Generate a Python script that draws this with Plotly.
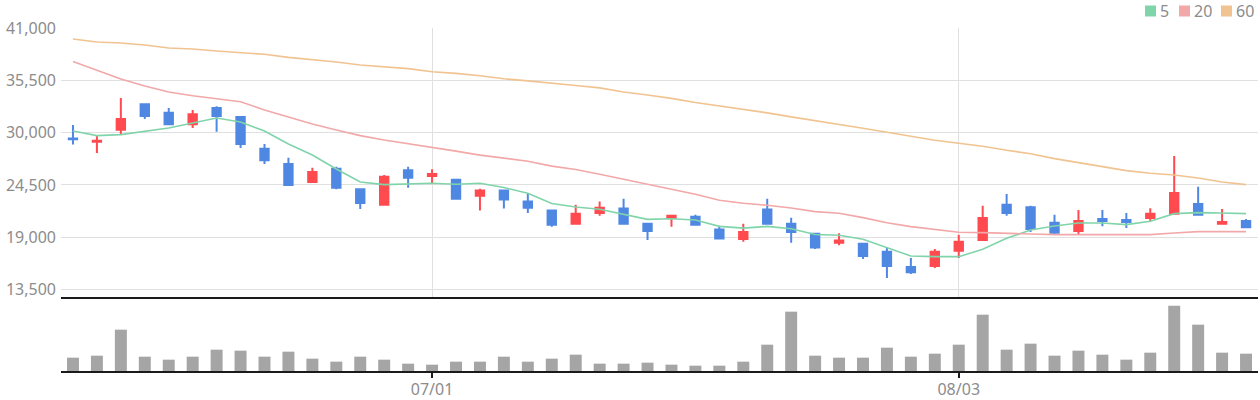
import plotly.graph_objects as go

# ---------------- data ----------------
idx = list(range(50))
tick_pos = [15, 37]
tick_text = ["07/01", "08/03"]
price_ticks = [13500, 19000, 24500, 30000, 35500, 41000]

open_ = [29400, 29050, 30300, 33000, 32100, 30900, 32600, 31650, 28300, 26700,
         24800, 26200, 24050, 22400, 26050, 25450, 25050, 23350, 23900, 22750,
         21800, 20400, 21550, 22000, 20400, 21050, 21150, 19800, 18800, 21900,
         20400, 19350, 18400, 18300, 17450, 15850, 15950, 17550, 18700, 22400,
         22150, 20500, 19650, 20900, 20800, 21000, 21450, 22500, 20400, 20700]
high = [30800, 29650, 33650, 33050, 32600, 32400, 32800, 31700, 28800, 27350,
        26300, 26400, 24100, 25550, 26400, 26150, 25100, 24100, 23950, 23600,
        21850, 22400, 22750, 23050, 20500, 21350, 21350, 20200, 20400, 23050,
        21050, 19400, 19400, 18400, 17950, 16800, 17750, 19250, 22300, 23550,
        22300, 21350, 21850, 21850, 21550, 22050, 27550, 24300, 21950, 20900]
low = [28750, 27850, 29750, 31450, 30800, 30500, 30100, 28400, 26700, 24400,
       24700, 24050, 21950, 22350, 24200, 24600, 23000, 21800, 22000, 21550,
       20100, 20300, 21250, 20400, 18700, 20100, 20200, 18800, 18500, 20300,
       18400, 17750, 18150, 16700, 14700, 15100, 15750, 16800, 18700, 21250,
       19550, 19250, 19250, 20150, 19950, 20700, 21350, 21250, 20300, 20050]
close = [29300, 29150, 31450, 31750, 30900, 31950, 31750, 28800, 27100, 24500,
         25850, 24200, 22600, 25350, 25250, 25650, 23050, 23900, 22950, 22100,
         20300, 21450, 22100, 20400, 19650, 21250, 20300, 18850, 19550, 20400,
         19550, 17900, 18650, 17000, 15950, 15300, 17450, 18500, 21000, 21550,
         19850, 19450, 20700, 20700, 20600, 21450, 23650, 21350, 20600, 20050]

ma5 = [30180, 29690, 29800, 30180, 30500, 31030, 31550, 31130, 30180, 28810,
       27650, 26180, 24810, 24530, 24600, 24680, 24570, 24680, 24220, 23620,
       22530, 22170, 21930, 21360, 20870, 20940, 20800, 20130, 19950, 20130,
       19880, 19280, 19190, 18770, 17860, 17010, 16940, 16940, 17710, 18870,
       19750, 20170, 20490, 20490, 20310, 20660, 21470, 21580, 21540, 21470]
ma20 = [37490, 36540, 35660, 34920, 34290, 33900, 33590, 33270, 32400, 31660,
        30920, 30290, 29690, 29230, 28850, 28490, 28060, 27640, 27320, 27000,
        26480, 26120, 25630, 25100, 24570, 24010, 23510, 22880, 22560, 22350,
        22070, 21680, 21510, 21050, 20520, 20100, 19820, 19510, 19470, 19370,
        19330, 19260, 19260, 19260, 19260, 19260, 19430, 19580, 19580, 19580]
ma60 = [39880, 39560, 39450, 39240, 38930, 38820, 38610, 38440, 38260, 37940,
        37730, 37450, 37140, 36960, 36750, 36420, 36250, 36000, 35680, 35460,
        35180, 34970, 34720, 34290, 33970, 33620, 33190, 32840, 32480, 32090,
        31670, 31240, 30810, 30460, 30040, 29590, 29200, 28880, 28570, 28150,
        27790, 27270, 26850, 26420, 26000, 25720, 25550, 25230, 24810, 24530]
volume = [40000, 46000, 124000, 43000, 34000, 43000, 64000, 61000, 43000, 58000,
          37000, 28000, 43000, 34000, 22000, 19000, 28000, 28000, 43000, 28000,
          37000, 49000, 22000, 22000, 25000, 19000, 16000, 16000, 28000, 79000,
          178000, 46000, 40000, 40000, 70000, 43000, 52000, 79000, 169000, 64000,
          82000, 46000, 61000, 49000, 34000, 55000, 196000, 139000, 55000, 52000]

ma_names = ["5", "20", "60"]
ma_colors = ["#80d4aa", "#f2a8a8", "#f1c391"]

# ---------------- layout constants (pixels) ----------------
W, H = 1260, 400
ML, MR, MT, MB = 61, 2, 28, 29
PW = W - ML - MR
PH = H - MT - MB
split = 74 / PH
GRAY = "#8c8c8c"
FONT = "Noto Sans"


def px_x(px):
    return (px - ML) / PW


def px_y(py):
    return (H - MB - py) / PH


fig = go.Figure()

fig.add_trace(go.Candlestick(
    x=idx, open=open_, high=high, low=low, close=close,
    increasing=dict(line=dict(color="#ff4a4f", width=2), fillcolor="#ff4a4f"),
    decreasing=dict(line=dict(color="#4f88e3", width=2), fillcolor="#4f88e3"),
    whiskerwidth=0, showlegend=False, xaxis="x", yaxis="y", hoverinfo="skip",
))

for vals, name, col in zip([ma5, ma20, ma60], ma_names, ma_colors):
    fig.add_trace(go.Scatter(
        x=idx, y=vals, mode="lines", name=name,
        line=dict(color=col, width=1.6), showlegend=False,
        xaxis="x", yaxis="y", hoverinfo="skip",
    ))

fig.add_trace(go.Bar(
    x=idx, y=volume, marker=dict(color="#a5a5a5", line=dict(width=0)),
    width=0.5, showlegend=False, xaxis="x2", yaxis="y2", hoverinfo="skip",
))

# legend (squares + labels) drawn in paper space
legend_items = [(1145, 1160), (1179, 1194), (1221, 1236)]
shapes = []
annotations = []
for (sx, tx), name, col in zip(legend_items, ma_names, ma_colors):
    shapes.append(dict(type="rect", xref="paper", yref="paper",
                       x0=px_x(sx), x1=px_x(sx + 11), y0=px_y(16.5), y1=px_y(5.5),
                       fillcolor=col, line=dict(width=0)))
    annotations.append(dict(text=name, xref="paper", yref="paper",
                            x=px_x(tx - 2), y=px_y(11), xanchor="left", yanchor="middle",
                            showarrow=False, font=dict(family=FONT, size=16, color=GRAY)))

fig.update_layout(
    width=W, height=H,
    margin=dict(l=ML, r=MR, t=MT, b=MB, pad=0, autoexpand=False),
    paper_bgcolor="white", plot_bgcolor="white",
    boxgap=0.5,
    bargap=0.5,
    shapes=shapes, annotations=annotations,
    font=dict(family=FONT, size=16, color=GRAY),
    xaxis=dict(domain=[0, 1], anchor="y", range=[-0.5, 49.5],
               tickvals=tick_pos, showticklabels=False, showgrid=True,
               gridcolor="#e0e0e0", gridwidth=1, zeroline=False,
               showline=True, linecolor="#1a1a1a", linewidth=2,
               rangeslider=dict(visible=False), fixedrange=True, automargin=False),
    yaxis=dict(domain=[split, 1], anchor="x", range=[12688, 41032],
               tickvals=price_ticks, tickformat=",d", showgrid=True,
               gridcolor="#e0e0e0", gridwidth=1, zeroline=False,
               ticks="", ticklabelstandoff=4, automargin=False,
               tickfont=dict(family=FONT, size=16, color=GRAY), fixedrange=True),
    xaxis2=dict(domain=[0, 1], anchor="y2", range=[-0.5, 49.5],
                tickvals=tick_pos, ticktext=tick_text, showgrid=False,
                zeroline=False, showline=True, linecolor="#1a1a1a", linewidth=2,
                ticks="outside", ticklen=5, tickwidth=2, tickcolor="#1a1a1a",
                ticklabelstandoff=-2, automargin=False,
                tickfont=dict(family=FONT, size=16, color=GRAY), fixedrange=True),
    yaxis2=dict(domain=[0, split], anchor="x2", range=[0, 222000],
                showgrid=False, zeroline=False, showticklabels=False,
                ticks="", fixedrange=True, automargin=False),
)

fig.write_html("out.html",
               config={"displayModeBar": False, "staticPlot": True},
               post_script="document.body.style.margin='0px';document.body.style.overflow='hidden';")
